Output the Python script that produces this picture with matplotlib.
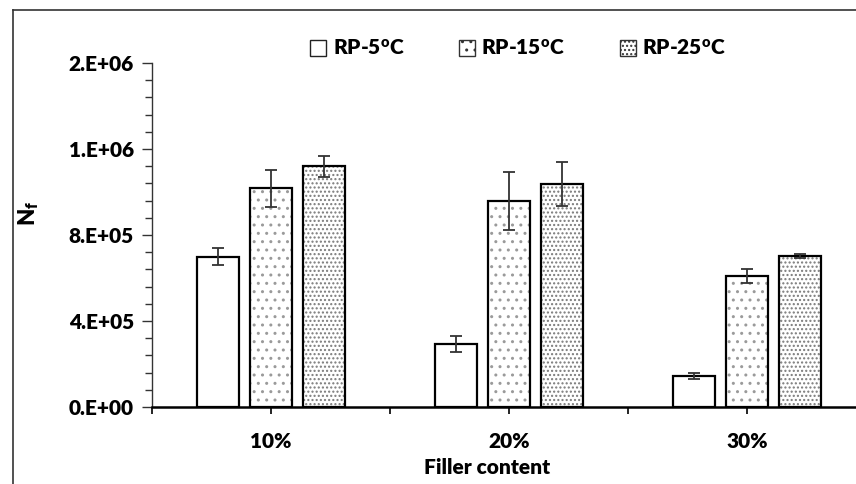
import matplotlib
matplotlib.use("Agg")
import matplotlib.pyplot as plt
import numpy as np
from matplotlib.patches import Patch
from matplotlib.lines import Line2D

WEIGHT = 'heavy'
plt.rcParams['font.family'] = ['Lato', 'DejaVu Sans']
plt.rcParams['font.weight'] = WEIGHT
plt.rcParams['mathtext.fontset'] = 'custom'
plt.rcParams['mathtext.rm'] = 'Lato:heavy'
plt.rcParams['mathtext.bf'] = 'Lato:heavy'
plt.rcParams['mathtext.it'] = 'Lato:heavy'
plt.rcParams['hatch.linewidth'] = 1.0

categories = ['10%', '20%', '30%']
series_names = ['RP-5$^{\\mathbf{o}}$C', 'RP-15$^{\\mathbf{o}}$C', 'RP-25$^{\\mathbf{o}}$C']
rp5 = [700000, 295000, 144000]
rp5_err = [38000, 37000, 14000]
rp15 = [1017000, 958000, 609000]
rp15_err = [86000, 135000, 34000]
rp25 = [1119000, 1037000, 702000]
rp25_err = [48000, 103000, 9000]
ytick_values = [0, 400000, 800000, 1200000, 1600000]
ytick_labels = ['0.E+00', '4.E+05', '8.E+05', '1.E+06', '2.E+06']

values = [rp5, rp15, rp25]
errors = [rp5_err, rp15_err, rp25_err]
hatches = [None, '..', '....']
hatch_colors = [None, '#9a9a9a', '#7a7a7a']

FS = 15
W, H = 856, 484
fig = plt.figure(figsize=(W / 100, H / 100), dpi=100)
left, right, bottom, top = 152, 866, 407, 63
ax = fig.add_axes([left / W, 1 - bottom / H, (right - left) / W, (bottom - top) / H])

x = np.arange(len(categories))
bw = 0.176
offs = [-0.2227, 0.0, 0.2227]
for i in range(3):
    xs = x + offs[i]
    if hatches[i]:
        ax.bar(xs, values[i], width=bw, color='white', edgecolor=hatch_colors[i],
               hatch=hatches[i], linewidth=0, zorder=2)
        ax.bar(xs, values[i], width=bw, color='none', edgecolor='black',
               linewidth=1.6, zorder=3)
    else:
        ax.bar(xs, values[i], width=bw, color='white', edgecolor='black',
               linewidth=1.6, zorder=3)
    ax.errorbar(xs, values[i], yerr=errors[i], fmt='none', ecolor='#333333',
                elinewidth=1.3, capsize=4.5, capthick=1.3, zorder=4)

ax.set_xlim(-0.5, 2.5)
ax.set_ylim(0, 1600000)
ax.set_yticks(ytick_values, ytick_labels)
ax.set_yticks(np.arange(0, 1600001, 80000), minor=True)
ax.set_xticks(x, categories)
ax.set_xticks([-0.5, 0.5, 1.5, 2.5], minor=True)
ax.tick_params(axis='y', which='major', direction='out', length=7, width=1, labelsize=FS, pad=6, color='#333333')
ax.tick_params(axis='y', which='minor', direction='out', length=5, width=1, color='#333333')
ax.tick_params(axis='x', which='both', direction='out', length=5, width=1.2, labelsize=FS, pad=13)
for s in ['top', 'right']:
    ax.spines[s].set_visible(False)
ax.spines['left'].set_color('#333333')
ax.spines['left'].set_linewidth(1.0)
ax.spines['bottom'].set_linewidth(1.8)
ax.set_facecolor('none')

ax.set_xlabel('Filler content', fontsize=FS, fontweight=WEIGHT)
ax.xaxis.set_label_coords((487 - left) / (right - left), -(467 - bottom) / (bottom - top))
ax.xaxis.label.set_va('center')
ax.set_ylabel('N$_{\\mathbf{f}}$', fontsize=FS + 1, fontweight=WEIGHT)
ax.yaxis.set_label_coords(-(152 - 29) / (right - left), (bottom - 213) / (bottom - top))
ax.yaxis.label.set_va('center')

handles = []
for i in range(3):
    if hatches[i]:
        handles.append(Patch(facecolor='white', edgecolor='#333333', hatch=hatches[i], linewidth=1))
    else:
        handles.append(Patch(facecolor='white', edgecolor='#222222', linewidth=1))
leg = fig.legend(handles, series_names, loc='center', bbox_to_anchor=(518 / W, 1 - 48 / H),
                 ncol=3, frameon=False, fontsize=FS, handlelength=0.8, handleheight=0.8,
                 handletextpad=0.3, columnspacing=2.6, borderpad=0)

# outer chart frame (cropped)
fig.add_artist(Line2D([13 / W, 13 / W], [0, 1 - 10 / H], transform=fig.transFigure,
                      color='#333333', linewidth=1.2))
fig.add_artist(Line2D([13 / W, 1], [1 - 10 / H, 1 - 10 / H], transform=fig.transFigure,
                      color='#333333', linewidth=1.2))

fig.savefig('out.png', dpi=100)
